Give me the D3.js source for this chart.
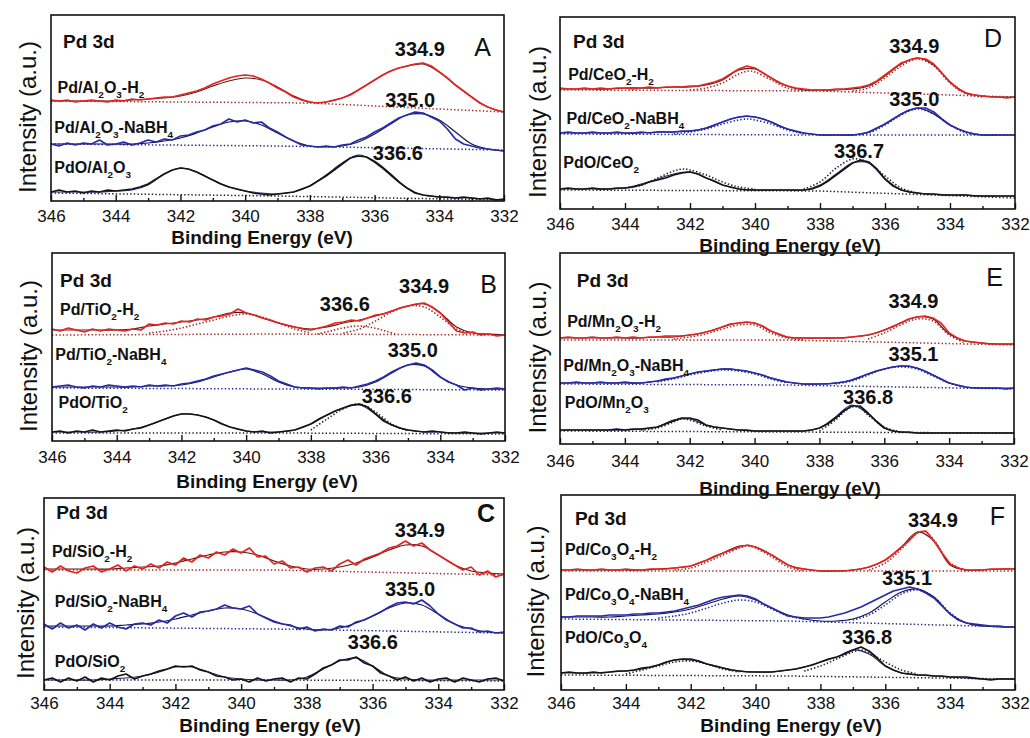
<!DOCTYPE html>
<html>
<head>
<meta charset="utf-8">
<script src="https://cdn.jsdelivr.net/npm/d3@7"></script>
<style>
  body { margin: 0; background: #fff; }
  svg { display: block; font-family: "Liberation Sans", Arial, sans-serif; }
</style>
</head>
<body>
<svg id="chart" width="1030" height="738"></svg>
<script>
// binding energy axis (eV), reversed like the original
const eStart = 346, eEnd = 332
const rawStep = 0.25, fitStep = 0.5
const majorTicks = [346, 344, 342, 340, 338, 336, 334, 332]
const minorTicks = [345, 343, 341, 339, 337, 335, 333]

// sample names ("_x" = subscript)
const samplesA = ['Pd/Al_2O_3-H_2', 'Pd/Al_2O_3-NaBH_4', 'PdO/Al_2O_3']
const samplesB = ['Pd/TiO_2-H_2', 'Pd/TiO_2-NaBH_4', 'PdO/TiO_2']
const samplesC = ['Pd/SiO_2-H_2', 'Pd/SiO_2-NaBH_4', 'PdO/SiO_2']
const samplesD = ['Pd/CeO_2-H_2', 'Pd/CeO_2-NaBH_4', 'PdO/CeO_2']
const samplesE = ['Pd/Mn_2O_3-H_2', 'Pd/Mn_2O_3-NaBH_4', 'PdO/Mn_2O_3']
const samplesF = ['Pd/Co_3O_4-H_2', 'Pd/Co_3O_4-NaBH_4', 'PdO/Co_3O_4']

// peak position labels
const peaksA = ['334.9', '335.0', '336.6']
const peaksB = ['334.9', '336.6', '335.0', '336.6']
const peaksC = ['334.9', '335.0', '336.6']
const peaksD = ['334.9', '335.0', '336.7']
const peaksE = ['334.9', '335.1', '336.8']
const peaksF = ['334.9', '335.1', '336.8']

// ---- spectra: raw every 0.25 eV, fit every 0.5 eV, from 346 down to 332 (a.u., offset stacked)
// 1 = H2 reduced, 2 = NaBH4 reduced, 3 = PdO

// A  Al2O3
const rawA1 = [101,100,101,99,100,101,100,99,101,100, 102,101,102,103,104,104,106,108,110,113, 117,120,123,125,126,125,122,118,113,109, 104,101,99,98,99,101,103,106,111,116, 121,126,130,133,135,137,138,135,129,123, 116,110,104,98,94,91,89]
const fitA1 = [100,100,100,100,100,101,102,103,105,109,115,120,123,121,114,105,99,99,103,111,121,130,135,137,129,116,104,94,89]
const rawA2 = [57,55,58,56,58,57,61,56,57,59, 56,58,61,59,62,61,65,66,69,71, 75,77,82,79,81,78,79,73,69,64, 60,56,55,54,55,54,56,57,61,64, 69,73,78,83,86,89,88,84,80,72, 62,57,55,53,52,51,50]
const fitA2 = [57,57,57,57,57,57,58,60,63,68,74,79,80,76,68,60,55,54,55,59,67,77,86,87,81,69,57,52,50]
const rawA3 = [9,11,9,10,8,10,9,11,10,11, 12,14,17,22,27,31,33,32,29,25, 21,17,14,12,10,8,7,6,7,8, 9,12,15,20,25,31,37,43,45,44, 39,33,26,19,13,8,6,5,4,4, 3,4,3,2,3,1,2]
const fitA3 = [9,9,9,9,10,11,16,27,33,29,21,14,10,8,7,9,15,26,38,46,40,27,13,6,4,3,3,2,1]
const baseA1 = [[346,100],[338,98],[332,89]]
const baseA2 = [[346,57],[339,55],[332,51]]
const baseA3 = [[346,8],[339,5],[332,1]]

// B  TiO2
const rawB1 = [112,110,113,111,109,112,110,112,111,110, 112,111,117,116,118,117,120,119,122,121, 124,125,127,132,128,126,123,121,118,116, 114,112,111,113,115,118,119,121,120,123, 126,127,130,133,135,137,138,134,128,119, 110,108,109,106,107,105,106]
const fitB1 = [111,111,111,111,111,112,115,117,119,121,124,128,128,123,118,114,112,114,118,121,125,130,135,137,128,114,108,107,106]
const rawB2 = [54,55,56,54,53,55,54,56,55,54, 55,54,56,55,56,55,57,58,60,62, 65,67,69,71,73,71,69,65,60,57, 54,53,53,52,53,53,54,53,55,57, 60,64,69,73,76,78,76,71,64,59, 56,51,53,51,52,53,52]
const fitB2 = [54,54,54,54,54,54,55,55,56,59,64,69,72,67,59,54,53,53,53,54,59,68,76,75,64,56,53,52,52]
const rawB3 = [9,10,8,10,9,11,9,10,11,10, 12,13,16,19,22,25,27,27,26,24, 21,17,14,12,10,9,10,8,9,10, 11,14,17,22,26,30,33,36,37,34, 27,20,16,13,11,10,9,10,9,8, 8,9,8,7,8,9,8]
const fitB3 = [9,9,9,9,10,12,16,22,27,26,21,14,10,9,9,11,17,26,33,36,27,16,11,9,9,8,8,8,8]
const baseB1 = [[346,106],[339,107],[332,106]]
const baseB2 = [[346,53],[339,52],[332,51]]
const baseB3 = [[346,8],[339,8],[332,7]]
const compB1 = [
  [[343,108],[342.5,110],[342,113],[341.5,117],[341,121],[340.5,125],[340,127],[339.5,124],[339,118],[338.5,112],[338,108]],
  [[337.8,107],[337.4,110],[337,113],[336.6,115],[336.2,114],[335.8,111],[335.4,107]],
  [[337,108],[336.5,112],[336,120],[335.5,129],[335,135],[334.5,134],[334,124],[333.5,112],[333,107]]
]
const compB3 = [
  [[338,11],[337.5,22],[337,32],[336.5,37],[336,29],[335.5,17],[335,10]]
]

// C  SiO2
const rawC1 = [123,118,124,119,117,122,124,118,121,125, 119,124,121,126,122,128,125,132,128,135, 132,138,135,141,137,142,133,134,126,129, 122,123,118,122,123,119,126,130,125,131, 134,137,142,144,149,144,147,140,135,130, 125,120,123,115,119,113,116]
const fitC1 = [121,121,121,121,121,122,123,124,127,131,135,138,138,135,129,124,121,121,123,127,133,140,145,144,135,125,119,117,116]
const rawC2 = [66,61,67,62,65,60,66,62,67,63, 61,66,67,65,70,67,74,77,73,78, 79,81,85,82,81,84,76,72,68,66, 65,61,63,59,61,60,64,63,68,70, 74,78,83,87,88,86,90,84,76,70, 66,62,62,58,59,57,58]
const fitC2 = [64,64,64,64,64,65,66,68,71,75,79,82,81,76,69,64,61,60,62,67,74,82,87,85,76,66,61,58,57]
const rawC3 = [10,12,8,12,9,13,8,12,10,14, 16,11,14,16,19,21,24,23,24,20, 18,14,13,10,11,8,12,9,11,12, 8,12,11,16,22,25,30,30,33,27, 24,17,14,10,13,9,12,8,11,12, 8,12,10,8,11,12,9]
const fitC3 = [10,10,10,10,11,12,14,18,23,23,18,13,11,10,10,10,13,21,29,32,24,14,11,10,10,10,10,10,10]
const baseC1 = [[346,120],[339,120],[332,115]]
const baseC2 = [[346,63],[339,61],[332,57]]
const baseC3 = [[346,10],[339,10],[332,9]]

// D  CeO2
const rawD1 = [121,120,120,121,120,121,120,121,121,120, 121,122,121,122,122,122,123,123,125,127, 130,135,140,143,141,136,131,126,123,121, 120,119,119,119,120,120,121,122,124,128, 134,140,146,149,151,150,145,136,127,120, 116,114,113,112,112,111,112]
const fitD1 = [120,120,120,120,121,121,121,122,122,124,129,139,140,131,123,119,119,119,120,123,133,145,151,144,127,116,113,112,112]
const rawD2 = [76,77,76,76,77,76,76,77,76,76, 77,76,77,77,77,78,78,79,81,84, 87,90,92,93,92,90,87,83,80,78, 76,75,74,74,74,74,74,75,77,81, 85,90,95,99,101,101,97,90,84,80, 77,75,74,74,74,74,74]
const fitD2 = [76,76,76,76,76,76,77,77,78,81,87,92,92,87,80,76,74,74,74,77,85,95,101,95,84,77,74,74,74]
const rawD3 = [20,21,20,20,21,20,20,21,21,22, 24,27,29,31,34,36,37,35,31,28, 24,22,20,19,19,19,19,19,19,19, 19,20,23,28,34,40,46,49,47,40, 30,23,19,17,16,15,15,14,14,14, 14,13,13,13,13,13,13]
const fitD3 = [20,20,20,20,21,25,30,35,37,31,24,20,19,19,19,19,24,35,46,46,30,19,16,15,14,14,13,13,13]
const baseD1 = [[346,119],[338,118],[332,112]]
const baseD2 = [[346,75],[338,74],[332,74]]
const baseD3 = [[346,19],[338,18],[332,11]]
const compD1 = [
  [[342,119],[341.5,121],[341,126],[340.5,135],[340.2,138],[340,137],[339.5,129],[339,121],[338.5,118]],
  [[337,118],[336.5,121],[336,131],[335.5,143],[335,150],[334.5,143],[334,126],[333.5,115],[333,112]]
]
const compD2 = [
  [[342.5,75],[342,77],[341.5,80],[341,85],[340.5,89],[340.2,90],[340,89],[339.5,85],[339,79],[338.5,75]],
  [[337,74],[336.5,76],[336,84],[335.5,94],[335,100],[334.5,95],[334,84],[333.5,76],[333,74]]
]
const compD3 = [
  [[344,21],[343.5,24],[343,31],[342.5,38],[342.2,40],[342,39],[341.5,34],[341,27],[340.5,22],[340,20]],
  [[338.5,20],[338,27],[337.5,41],[337,50],[336.7,49],[336.5,46],[336,33],[335.5,21],[335,16]]
]

// E  Mn2O3
const rawE1 = [106,107,106,106,107,106,106,107,106,107, 106,107,107,108,108,108,109,110,112,114, 117,120,121,122,121,118,113,110,107,106, 106,106,106,106,106,106,107,108,109,111, 114,117,121,125,127,128,126,121,111,106, 103,102,101,100,100,100,100]
const fitE1 = [106,106,106,106,106,106,107,107,109,112,117,121,121,113,107,106,106,106,107,109,114,121,127,125,110,103,101,100,100]
const rawE2 = [61,61,62,61,61,62,61,61,62,61, 61,62,63,65,66,68,70,72,73,74, 75,75,74,73,71,69,66,64,62,61, 60,60,60,60,61,62,64,67,70,73, 75,77,78,78,76,73,69,65,61,59, 57,56,56,56,56,55,56]
const fitE2 = [61,61,61,61,61,61,63,66,70,73,75,74,71,66,62,60,60,61,64,70,75,78,76,69,61,57,56,56,56]
const rawE3 = [14,14,14,14,14,14,14,15,14,15, 15,16,17,20,23,26,26,24,19,17, 16,15,14,14,13,13,13,13,13,13, 13,14,16,20,26,33,38,38,31,23, 16,13,12,12,11,11,11,11,11,11, 11,11,11,11,11,11,11]
const fitE3 = [14,14,14,14,14,15,17,24,25,19,16,14,13,13,13,13,16,27,39,30,16,12,11,11,11,11,11,11,11]
const baseE1 = [[346,104],[339,104],[332,99]]
const baseE2 = [[346,60],[339,59],[332,55]]
const baseE3 = [[346,13],[339,12],[332,11]]
const compE1 = [
  [[342.5,105],[342,107],[341.5,110],[341,115],[340.5,119],[340,119],[339.5,111],[339,106],[338.5,104]],
  [[336.5,105],[336,111],[335.5,119],[335,125],[334.5,123],[334,109],[333.5,101]]
]
const compE2 = [
  [[343,62],[342.5,65],[342,69],[341.5,72],[341,74],[340.5,73],[340,70],[339.5,65],[339,61]],
  [[337.5,60],[337,63],[336.5,69],[336,75],[335.5,77],[335,75],[334.5,68],[334,61],[333.5,57]]
]
const compE3 = [
  [[343.5,14],[343,16],[342.5,22],[342.25,25],[342,24],[341.5,18],[341,14]],
  [[338,13],[337.5,24],[337.25,32],[337,37],[336.75,36],[336.5,29],[336,17],[335.5,12]]
]

// F  Co3O4
const rawF1 = [120,120,121,120,120,121,120,120,121,120, 120,121,121,121,122,123,124,127,130,134, 137,140,143,145,143,139,135,130,125,122, 121,120,119,119,119,119,120,121,123,126, 130,136,143,150,158,159,149,137,126,122, 120,120,120,121,121,121,121]
const fitF1 = [120,120,120,120,120,120,121,122,124,130,137,144,143,135,125,121,119,119,120,123,130,143,158,149,125,120,120,121,121]
const rawF2 = [73,73,74,74,74,74,75,75,75,76, 76,77,77,78,79,81,83,85,88,91, 93,94,95,94,91,86,82,78,74,73, 72,72,72,73,75,77,80,83,87,91, 95,99,101,103,101,97,92,84,76,70, 67,66,65,64,64,63,63]
const fitF2 = [73,73,73,73,74,75,76,78,81,86,91,94,90,82,75,71,69,69,71,77,88,98,101,93,76,67,64,63,63]
const rawF3 = [17,18,17,17,18,17,18,19,19,20, 22,23,25,28,30,31,31,29,26,24, 22,20,19,18,18,18,18,19,20,21, 23,25,28,31,33,36,40,43,39,32, 24,20,17,16,15,15,14,14,13,13, 13,12,11,10,11,11,11]
const fitF3 = [17,17,17,18,19,21,25,30,30,26,22,19,18,18,20,23,28,33,40,36,24,17,15,14,13,12,11,11,11]
const baseF1 = [[346,119],[339,119],[332,119]]
const baseF2 = [[346,71],[339,69],[332,63]]
const baseF3 = [[346,15],[339,14],[332,11]]
const compF1 = [
  [[342.5,120],[342,122],[341.5,128],[341,135],[340.5,142],[340.25,144],[340,142],[339.5,133],[339,123],[338.5,119]],
  [[336.5,120],[336,127],[335.5,141],[335,157],[334.75,158],[334.5,150],[334,127],[333.5,119]]
]
const compF2 = [
  [[343,72],[342.5,74],[342,77],[341.5,82],[341,87],[340.5,90],[340,88],[339.5,81],[339,74],[338.5,71]],
  [[337,70],[336.5,75],[336,85],[335.5,96],[335,100],[334.5,93],[334,77],[333.5,67],[333,64]]
]
const compF3 = [
  [[344,16],[343.5,20],[343,24],[342.5,28],[342,29],[341.5,26],[341,21],[340.5,18]],
  [[338.5,19],[338,24],[337.5,31],[337,38],[336.75,40],[336.5,37],[336,28],[335.5,20],[335,16]]
]

// ---- styling
const rawColor = ['#e32420', '#2a2aa6', '#141414']
const fitColor = ['#5c1616', '#14145e', '#24246a']
const dotColor = ['#a02c2c', '#28288c', '#222222']

// layout: frame [left, top, right, bottom] in px; text anchors in data units
const panels = [
  { id: 'A', frame: [51, 15, 504, 201], samples: samplesA, peaks: peaksA,
    traces: [[rawA1, fitA1, baseA1, []], [rawA2, fitA2, baseA2, []], [rawA3, fitA3, baseA3, []]],
    pd: [345.63, 153], letterAt: [332.4, 145], letterBold: false,
    peakAt: [[334.6, 145], [334.9, 94], [335.28, 41]],
    sampleAt: [[345.8, 108], [345.9, 68], [345.9, 28]],
    yLabelX: 27, xLabel: [262, 244], tickGap: 15 },
  { id: 'B', frame: [52, 253, 505, 441], samples: samplesB, peaks: peaksB,
    traces: [[rawB1, fitB1, baseB1, compB1], [rawB2, fitB2, baseB2, []], [rawB3, fitB3, baseB3, compB3]],
    pd: [345.75, 154], letterAt: [332.25, 148], letterBold: false,
    peakAt: [[334.5, 148], [336.95, 130], [334.85, 84], [335.65, 38]],
    sampleAt: [[345.75, 126], [345.9, 81], [345.8, 33]],
    yLabelX: 28, xLabel: [267, 488], tickGap: 16 },
  { id: 'C', frame: [44, 498, 504, 690], samples: samplesC, peaks: peaksC,
    traces: [[rawC1, fitC1, baseC1, []], [rawC2, fitC2, baseC2, []], [rawC3, fitC3, baseC3, []]],
    pd: [345.63, 171], letterAt: [332.27, 168], letterBold: true,
    peakAt: [[334.56, 153], [334.86, 94], [335.99, 41]],
    sampleAt: [[345.76, 133], [345.67, 83], [345.67, 23]],
    yLabelX: 25, xLabel: [270, 732], tickGap: 13 },
  { id: 'D', frame: [560, 17, 1015, 209], samples: samplesD, peaks: peaksD,
    traces: [[rawD1, fitD1, baseD1, compD1], [rawD2, fitD2, baseD2, compD2], [rawD3, fitD3, baseD3, compD3]],
    pd: [345.6, 161], letterAt: [332.4, 162], letterBold: false,
    peakAt: [[335.1, 156], [335.1, 103], [336.8, 51]],
    sampleAt: [[345.75, 129], [345.8, 85], [345.9, 41]],
    yLabelX: 537, xLabel: [790, 252], tickGap: 15 },
  { id: 'E', frame: [560, 253, 1014, 444], samples: samplesE, peaks: peaksE,
    traces: [[rawE1, fitE1, baseE1, compE1], [rawE2, fitE2, baseE2, compE2], [rawE3, fitE3, baseE3, compE3]],
    pd: [345.48, 157], letterAt: [332.34, 158], letterBold: false,
    peakAt: [[335.1, 136], [335.1, 83], [336.5, 40]],
    sampleAt: [[345.78, 117], [345.9, 73], [345.85, 36]],
    yLabelX: 537, xLabel: [790, 495], tickGap: 17 },
  { id: 'F', frame: [561, 495, 1015, 690], samples: samplesF, peaks: peaksF,
    traces: [[rawF1, fitF1, baseF1, compF1], [rawF2, fitF2, baseF2, compF2], [rawF3, fitF3, baseF3, compF3]],
    pd: [345.57, 165], letterAt: [332.31, 165], letterBold: false,
    peakAt: [[334.53, 163], [335.33, 105], [336.56, 46]],
    sampleAt: [[345.88, 135], [345.88, 90], [345.88, 47]],
    yLabelX: 535, xLabel: [791, 732], tickGap: 13 }
]

const svg = d3.select('#chart')

// bold label with subscripts written as "_x"
function richText(g, str, px, py, size) {
  const t = g.append('text')
    .attr('x', px).attr('y', py)
    .attr('font-size', size).attr('font-weight', 'bold').attr('fill', '#111')
  let shift = 0
  str.split(/(_.)/).filter(s => s).forEach(s => {
    const sub = s[0] === '_'
    const target = sub ? size * 0.33 : 0
    t.append('tspan')
      .attr('dy', target - shift)
      .attr('font-size', sub ? size * 0.62 : size)
      .text(sub ? s[1] : s)
    shift = target
  })
}

function drawPanel(p) {
  const [l, t, r, b] = p.frame
  const x = d3.scaleLinear().domain([eStart, eEnd]).range([l, r])
  const y = d3.scaleLinear().domain([0, b - t]).range([b, t])
  const g = svg.append('g').attr('class', 'panel-' + p.id)

  const straight = d3.line().x(d => x(d[0])).y(d => y(d[1]))
  const smooth = d3.line().x(d => x(d[0])).y(d => y(d[1])).curve(d3.curveCatmullRom)

  p.traces.forEach(([raw, fit, base, comps], k) => {
    g.append('path').attr('d', straight(base))
      .attr('fill', 'none').attr('stroke', dotColor[k])
      .attr('stroke-width', 1.5).attr('stroke-dasharray', '1.4,2.2')
    comps.forEach(c => {
      g.append('path').attr('d', smooth(c))
        .attr('fill', 'none').attr('stroke', dotColor[k])
        .attr('stroke-width', 1.6).attr('stroke-dasharray', '1.4,2')
    })
    const fitPts = fit.map((v, i) => [eStart - i * fitStep, v])
    g.append('path').attr('d', smooth(fitPts))
      .attr('fill', 'none').attr('stroke', fitColor[k]).attr('stroke-width', 1.2)
    const rawPts = raw.map((v, i) => [eStart - i * rawStep, v])
    g.append('path').attr('d', straight(rawPts))
      .attr('fill', 'none').attr('stroke', rawColor[k])
      .attr('stroke-width', 1.7).attr('stroke-linejoin', 'round')
  })

  // frame
  g.append('rect')
    .attr('x', l).attr('y', t).attr('width', r - l).attr('height', b - t)
    .attr('fill', 'none').attr('stroke', '#111').attr('stroke-width', 1.6)

  // bottom axis, ticks pointing inside
  const pad = p.tickGap - 6
  const ax = g.append('g').attr('transform', `translate(0,${b})`)
    .call(d3.axisBottom(x).tickValues(majorTicks).tickSizeInner(-6).tickSizeOuter(0)
      .tickPadding(pad).tickFormat(d3.format('d')))
  ax.select('.domain').remove()
  ax.selectAll('line').attr('stroke', '#111').attr('stroke-width', 1.4)
  ax.selectAll('text').attr('font-size', 17).attr('fill', '#111')
    .attr('font-family', '"Liberation Sans", Arial, sans-serif')
  const mx = g.append('g').attr('transform', `translate(0,${b})`)
    .call(d3.axisBottom(x).tickValues(minorTicks).tickSizeInner(-3).tickSizeOuter(0).tickFormat(''))
  mx.select('.domain').remove()
  mx.selectAll('line').attr('stroke', '#111').attr('stroke-width', 1.4)

  // axis titles
  g.append('text')
    .attr('x', p.xLabel[0]).attr('y', p.xLabel[1])
    .attr('text-anchor', 'middle').attr('font-size', 19).attr('font-weight', 'bold')
    .attr('fill', '#111').text('Binding Energy (eV)')
  g.append('text')
    .attr('transform', `translate(${p.yLabelX},${(t + b) / 2 + 9}) rotate(-90)`)
    .attr('text-anchor', 'middle').attr('dominant-baseline', 'central')
    .attr('font-size', 24).attr('fill', '#111').text('Intensity (a.u.)')

  // annotations
  g.append('text')
    .attr('x', x(p.pd[0])).attr('y', y(p.pd[1]))
    .attr('font-size', 19).attr('font-weight', 'bold').attr('fill', '#111').text('Pd 3d')
  g.append('text')
    .attr('x', x(p.letterAt[0])).attr('y', y(p.letterAt[1]))
    .attr('text-anchor', 'end').attr('font-size', 25)
    .attr('font-weight', p.letterBold ? 'bold' : 'normal').attr('fill', '#111').text(p.id)
  p.peaks.forEach((lab, i) => {
    g.append('text')
      .attr('x', x(p.peakAt[i][0])).attr('y', y(p.peakAt[i][1]))
      .attr('text-anchor', 'middle').attr('font-size', 20).attr('font-weight', 'bold')
      .attr('fill', '#111').text(lab)
  })
  p.samples.forEach((s, i) => {
    richText(g, s, x(p.sampleAt[i][0]), y(p.sampleAt[i][1]), 16)
  })
}

panels.forEach(drawPanel)
</script>
</body>
</html>
